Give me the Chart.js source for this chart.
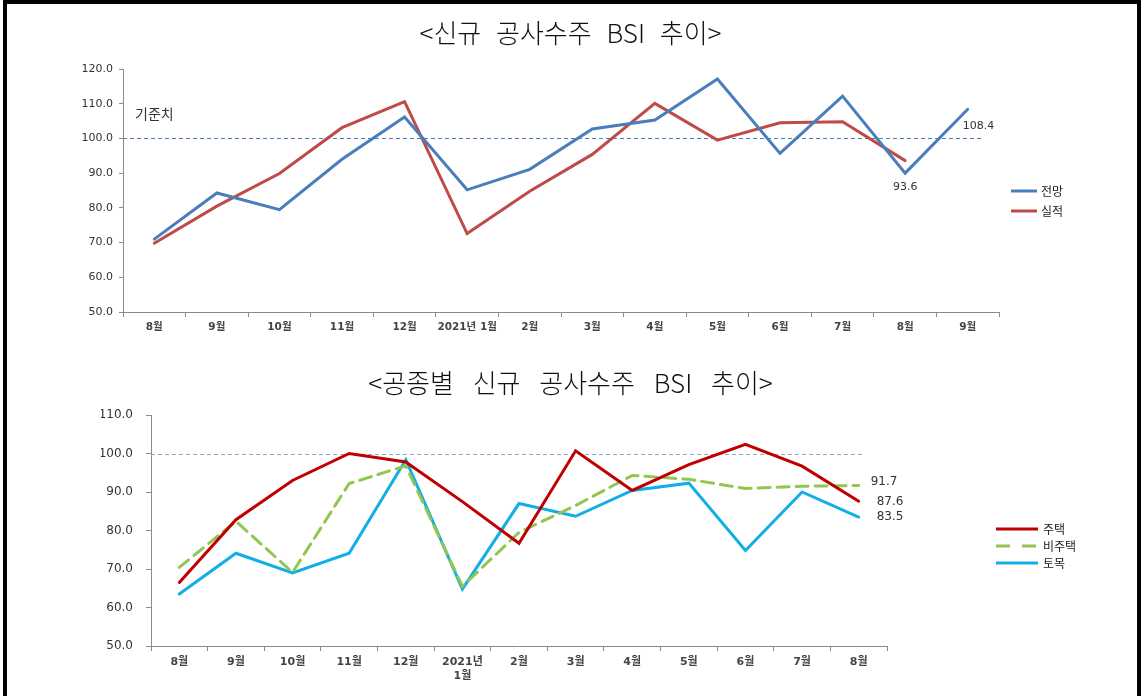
<!DOCTYPE html>
<html>
<head>
<meta charset="utf-8">
<script src="https://cdn.jsdelivr.net/npm/chart.js@4/dist/chart.umd.min.js"></script>
<style>
html,body{margin:0;padding:0;background:#fff;}
body{width:1141px;height:696px;position:relative;overflow:hidden;}
#frame{position:absolute;left:3px;top:0;width:1138px;height:800px;border:4px solid #000;box-sizing:border-box;}
.title{position:absolute;left:0;width:1141px;text-align:center;font-family:"Noto Sans CJK KR","DejaVu Sans",sans-serif;font-weight:300;font-size:26px;line-height:30px;color:#111;word-spacing:9px;z-index:2;}
canvas{position:absolute;left:0;}
#c1{top:0;}
#c2{top:355px;}
</style>
</head>
<body>
<div id="frame"></div>
<div class="title" style="top:17px;">&lt;신규 공사수주 BSI 추이&gt;</div>
<div class="title" style="top:367px;word-spacing:13px;">&lt;공종별 신규 공사수주 BSI 추이&gt;</div>
<canvas id="c1" width="1141" height="360"></canvas>
<canvas id="c2" width="1141" height="341"></canvas>
<script>
// ---------- DATA ----------
const months1 = ['8월','9월','10월','11월','12월','2021년 1월','2월','3월','4월','5월','6월','7월','8월','9월'];
const outlook = [71.0, 84.3, 79.5, 94.0, 106.2, 85.2, 91.1, 102.7, 105.3, 117.1, 95.7, 112.2, 90.0, 108.4];
const actual  = [69.8, 80.5, 89.9, 103.1, 110.6, 72.6, 84.8, 95.4, 110.1, 99.5, 104.5, 104.8, 93.6, null];
const seriesNames1 = ['전망','실적'];

const months2 = ['8월','9월','10월','11월','12월',['2021년','1월'],'2월','3월','4월','5월','6월','7월','8월'];
const housing    = [66.5, 82.8, 93.0, 100.0, 97.8, 87.5, 76.7, 100.7, 90.4, 97.1, 102.4, 96.7, 87.6];
const nonHousing = [70.4, 82.4, 69.1, 92.2, 96.8, 65.5, 79.5, 86.5, 94.3, 93.3, 90.9, 91.5, 91.7];
const civil      = [63.5, 74.1, 69.0, 74.1, 98.4, 64.8, 87.0, 83.7, 90.4, 92.3, 74.8, 90.0, 83.5];
const seriesNames2 = ['주택','비주택','토목'];

const baseline = 100;
const yRange1 = [50, 120];
const yRange2 = [50, 110];
const yStep = 10;
const baselineLabel = '기준치';

// ---------- PLUGIN ----------
const overlay = {
  id: 'overlay',
  beforeDatasetsDraw(chart, args, o) {
    const {ctx, chartArea: a, scales: {x, y}} = chart;
    const yy = Math.round(y.getPixelForValue(baseline)) + 0.5;
    const last = x.getPixelForValue(chart.data.labels.length - 1);
    ctx.save();
    ctx.strokeStyle = o.refColor;
    ctx.lineWidth = 1;
    ctx.setLineDash([4, 3]);
    ctx.beginPath();
    ctx.moveTo(a.left, yy);
    ctx.lineTo(last + o.refExtend, yy);
    ctx.stroke();
    ctx.restore();
  },
  afterDatasetsDraw(chart, args, o) {
    const {ctx, chartArea: a, scales: {x, y}} = chart;
    ctx.save();
    ctx.textBaseline = 'middle';
    if (o.baseText) {
      ctx.font = o.baseText.font;
      ctx.fillStyle = '#333';
      ctx.textAlign = 'left';
      ctx.fillText(baselineLabel, a.left + o.baseText.dx, y.getPixelForValue(baseline) + o.baseText.dy);
    }
    (o.values || []).forEach(v => {
      const val = chart.data.datasets[v.ds].data[v.idx];
      const anchor = chart.data.datasets[v.at].data[v.idx];
      const px = x.getPixelForValue(v.idx) + v.dx;
      const py = y.getPixelForValue(anchor) + v.dy;
      ctx.font = o.valueFont;
      ctx.fillStyle = '#333';
      ctx.textAlign = v.align;
      ctx.fillText(val.toFixed(1), px, py);
    });
    ctx.restore();
  },
  afterDraw(chart, args, o) {
    const {ctx} = chart;
    const L = o.legend;
    ctx.save();
    ctx.textBaseline = 'middle';
    ctx.textAlign = 'left';
    ctx.font = L.font;
    chart.data.datasets.forEach((ds, i) => {
      const yy = L.y + i * L.dy;
      ctx.strokeStyle = ds.borderColor;
      ctx.lineWidth = 3;
      ctx.setLineDash(ds.borderDash ? L.dash : []);
      ctx.beginPath();
      ctx.moveTo(L.x, yy);
      ctx.lineTo(L.x + L.len, yy);
      ctx.stroke();
      ctx.fillStyle = '#222';
      ctx.fillText(ds.label, L.x + L.len + L.gap, yy);
    });
    ctx.restore();
  }
};

const tickFont = (size, weight) => ({family: '"DejaVu Sans","Noto Sans CJK KR",sans-serif', size: size, weight: weight});

function lineDs(label, data, color, dash) {
  return {label, data, borderColor: color, backgroundColor: color, borderWidth: 3,
    pointRadius: 0, pointHoverRadius: 0, tension: 0, fill: false, borderDash: dash || undefined,
    borderCapStyle: 'round', borderJoinStyle: 'miter'};
}

// ---------- CHART 1 ----------
new Chart(document.getElementById('c1'), {
  type: 'line',
  data: {
    labels: months1,
    datasets: [
      lineDs(seriesNames1[0], outlook, '#4A7EBB'),
      lineDs(seriesNames1[1], actual, '#BE4B48')
    ]
  },
  options: {
    responsive: false, animation: false,
    layout: {padding: {left: 73, right: 142, top: 69, bottom: 8}},
    plugins: {
      legend: {display: false}, tooltip: {enabled: false},
      overlay: {
        refColor: '#4A7EBB', refExtend: 14,
        baseText: {font: '14px "Noto Sans CJK KR"', dx: 12, dy: -25},
        valueFont: '11px "DejaVu Sans"',
        values: [
          {ds: 0, idx: 13, at: 0, dx: -5, dy: 17, align: 'left'},
          {ds: 1, idx: 12, at: 0, dx: 0, dy: 14, align: 'center'}
        ],
        legend: {x: 1011, y: 191, dy: 20, len: 26, gap: 4, font: '12px "Noto Sans CJK KR"', dash: []}
      }
    },
    scales: {
      x: {
        type: 'category', offset: true,
        grid: {offset: true, drawOnChartArea: false, drawTicks: true, tickLength: 5, color: '#8a8a8a'},
        border: {color: '#8a8a8a'},
        ticks: {font: tickFont(10.5, 'bold'), color: '#444', maxRotation: 0, autoSkip: false, padding: 4},
        afterFit(s) { s.height = 40; }
      },
      y: {
        min: yRange1[0], max: yRange1[1],
        ticks: {stepSize: yStep, callback: v => Number(v).toFixed(1), font: tickFont(11, 'normal'), color: '#333', padding: 6},
        grid: {drawOnChartArea: false, drawTicks: true, tickLength: 4, color: '#8a8a8a'},
        border: {color: '#8a8a8a'},
        afterFit(s) { s.width = 50; }
      }
    }
  },
  plugins: [overlay]
});

// ---------- CHART 2 ----------
new Chart(document.getElementById('c2'), {
  type: 'line',
  data: {
    labels: months2,
    datasets: [
      lineDs(seriesNames2[0], housing, '#C00000'),
      lineDs(seriesNames2[1], nonHousing, '#92C650', [12, 7]),
      lineDs(seriesNames2[2], civil, '#12AEE6')
    ]
  },
  options: {
    responsive: false, animation: false,
    layout: {padding: {left: 101, right: 254, top: 60, bottom: 6}},
    plugins: {
      legend: {display: false}, tooltip: {enabled: false},
      overlay: {
        refColor: '#8FA6D0', refExtend: 5,
        valueFont: '12px "DejaVu Sans"',
        values: [
          {ds: 1, idx: 12, at: 1, dx: 12, dy: -4, align: 'left'},
          {ds: 0, idx: 12, at: 0, dx: 18, dy: 1, align: 'left'},
          {ds: 2, idx: 12, at: 2, dx: 18, dy: 0, align: 'left'}
        ],
        legend: {x: 996, y: 174, dy: 17, len: 42, gap: 5, font: '12px "Noto Sans CJK KR"', dash: [14, 12]}
      }
    },
    scales: {
      x: {
        type: 'category', offset: true,
        grid: {offset: true, drawOnChartArea: false, drawTicks: true, tickLength: 5, color: '#8a8a8a'},
        border: {color: '#8a8a8a'},
        ticks: {font: tickFont(11, 'bold'), color: '#444', maxRotation: 0, autoSkip: false, padding: 5},
        afterFit(s) { s.height = 44; }
      },
      y: {
        min: yRange2[0], max: yRange2[1],
        ticks: {stepSize: yStep, callback: v => Number(v).toFixed(1), font: tickFont(12, 'normal'), color: '#333', padding: 13},
        grid: {drawOnChartArea: false, drawTicks: true, tickLength: 5, color: '#8a8a8a'},
        border: {color: '#8a8a8a'},
        afterFit(s) { s.width = 50; }
      }
    }
  },
  plugins: [overlay]
});
</script>
</body>
</html>
